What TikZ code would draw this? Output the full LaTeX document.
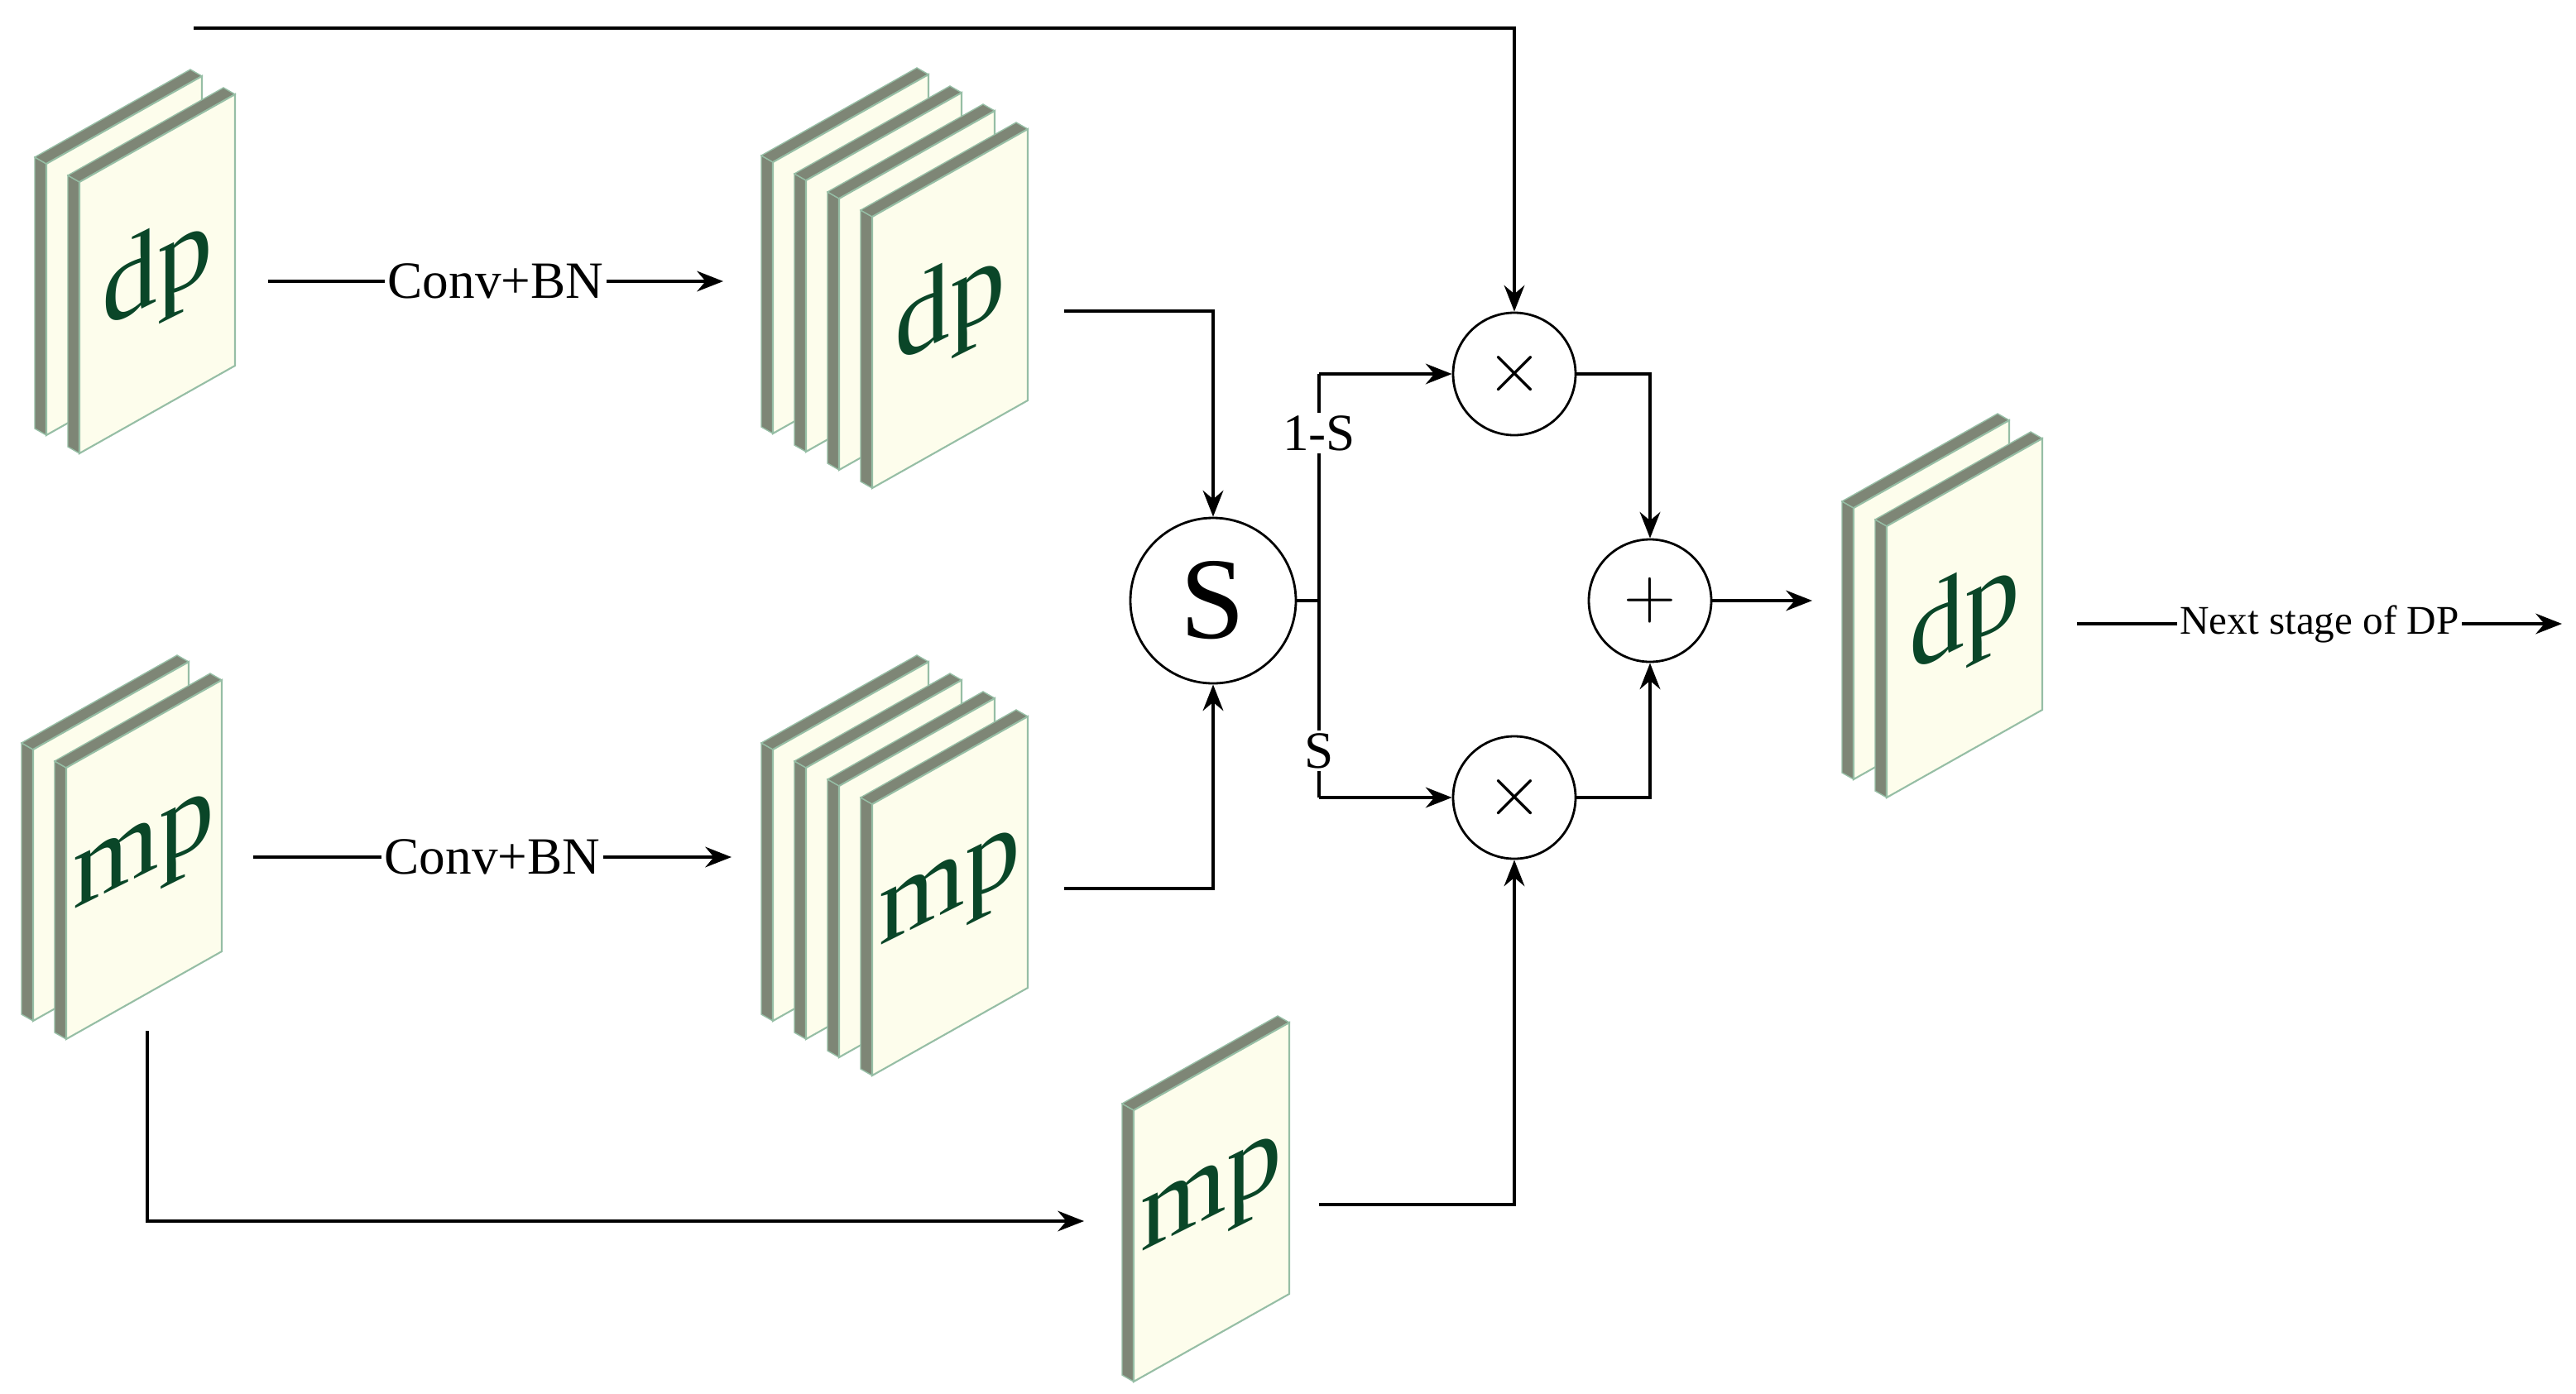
\documentclass[tikz,border=0pt]{standalone}
\usepackage{fontspec}
\setmainfont{Liberation Serif}
\usetikzlibrary{arrows.meta}

\definecolor{facecol}{RGB}{253,253,236}
\definecolor{sidecol}{RGB}{126,134,118}
\definecolor{edgecol}{RGB}{150,190,165}
\definecolor{txtcol}{RGB}{10,70,40}

% one feature plate, front face bottom-left corner at (#1,#2)
\newcommand\fplate[2]{%
  \fill[sidecol, draw=edgecol, line width=0.4pt] (#1,#2) -- (#1,#2-164) -- (#1-7,#2-168) -- (#1-7,#2-4) -- cycle;
  \fill[sidecol, draw=edgecol, line width=0.4pt] (#1,#2-164) -- (#1+94,#2-217) -- (#1+87,#2-221) -- (#1-7,#2-168) -- cycle;
  \fill[facecol, draw=edgecol, line width=0.6pt] (#1,#2) -- (#1,#2-164) -- (#1+94,#2-217) -- (#1+94,#2-53) -- cycle;
}

\tikzset{
  link/.style={line width=1.2pt, -{Stealth[length=9pt,width=7pt]}},
  wire/.style={line width=1.2pt},
  op/.style={draw, circle, line width=0.8pt, minimum size=74*0.02cm, inner sep=0pt, font=\fontsize{60}{60}\selectfont},
  lbl/.style={fill=white, inner sep=1pt, font=\fontsize{18}{18}\selectfont},
  maptxt/.style={text=txtcol, font=\fontsize{38}{38}\selectfont, cm={1,0.5,0,1,(0,0)}}
}

\begin{document}
\begin{tikzpicture}[x=0.02cm, y=-0.02cm]
\useasboundingbox (0,0) rectangle (1556.5,842);

% Feature maps
\foreach \i in {1,0} {\fplate{48-20*\i}{274-11*\i}}
\node[maptxt] (dpa) at (95,166) {dp};
\foreach \i in {3,2,1,0} {\fplate{527-20*\i}{295-11*\i}}
\node[maptxt] (dpb) at (574,187) {dp};
\foreach \i in {1,0} {\fplate{40-20*\i}{628-11*\i}}
\node[maptxt] (mpa) at (87,520) {mp};
\foreach \i in {3,2,1,0} {\fplate{527-20*\i}{650-11*\i}}
\node[maptxt] (mpb) at (574,542) {mp};
\fplate{685}{835}
\node[maptxt] (mpc) at (732,727) {mp};
\foreach \i in {1,0} {\fplate{1140-20*\i}{482-11*\i}}
\node[maptxt] (dpc) at (1187,374) {dp};

% Operators
\node[op, minimum size=100*0.02cm, font=\fontsize{40}{40}\selectfont] (sel) at (733,363) {S};
\node[op] (multop) at (915,226) {$\times$};
\node[op] (multbot) at (915,482) {$\times$};
\node[op] (add) at (997,363) {$+$};

% Points for connectors
\coordinate (c1) at (162,170);
\coordinate (c2) at (437,170);
\coordinate (c3) at (153,518);
\coordinate (c4) at (442,518);
\coordinate (top0) at (117,17);
\coordinate (b1) at (643,188);
\coordinate (b2) at (643,537);
\coordinate (split) at (797,363);
\coordinate (sup) at (797,226);
\coordinate (sdn) at (797,482);
\coordinate (m1) at (89,623);
\coordinate (m2) at (655,738);
\coordinate (m3) at (797,728);
\coordinate (o1) at (1095,363);
\coordinate (n1) at (1255,377);
\coordinate (n2) at (1548,377);

% Connectors
\draw[link] (c1) -- node[lbl] {Conv+BN} (c2);
\draw[link] (c3) -- node[lbl] {Conv+BN} (c4);
\draw[link] (top0) -| (multop.north);
\draw[link] (b1) -| (sel.north);
\draw[link] (b2) -| (sel.south);
\draw[wire] (sel.east) -- (split);
\draw[wire] (sup) -- node[lbl, pos=0.14] {1-S} node[lbl, pos=0.89] {S} (sdn);
\draw[link] (sup) -- (multop.west);
\draw[link] (sdn) -- (multbot.west);
\draw[link] (multop.east) -| (add.north);
\draw[link] (multbot.east) -| (add.south);
\draw[link] (add.east) -- (o1);
\draw[link] (n1) -- node[lbl, font=\fontsize{14}{14}\selectfont] {Next stage of DP} (n2);
\draw[link] (m1) |- (m2);
\draw[link] (m3) -| (multbot.south);
\end{tikzpicture}
\end{document}
